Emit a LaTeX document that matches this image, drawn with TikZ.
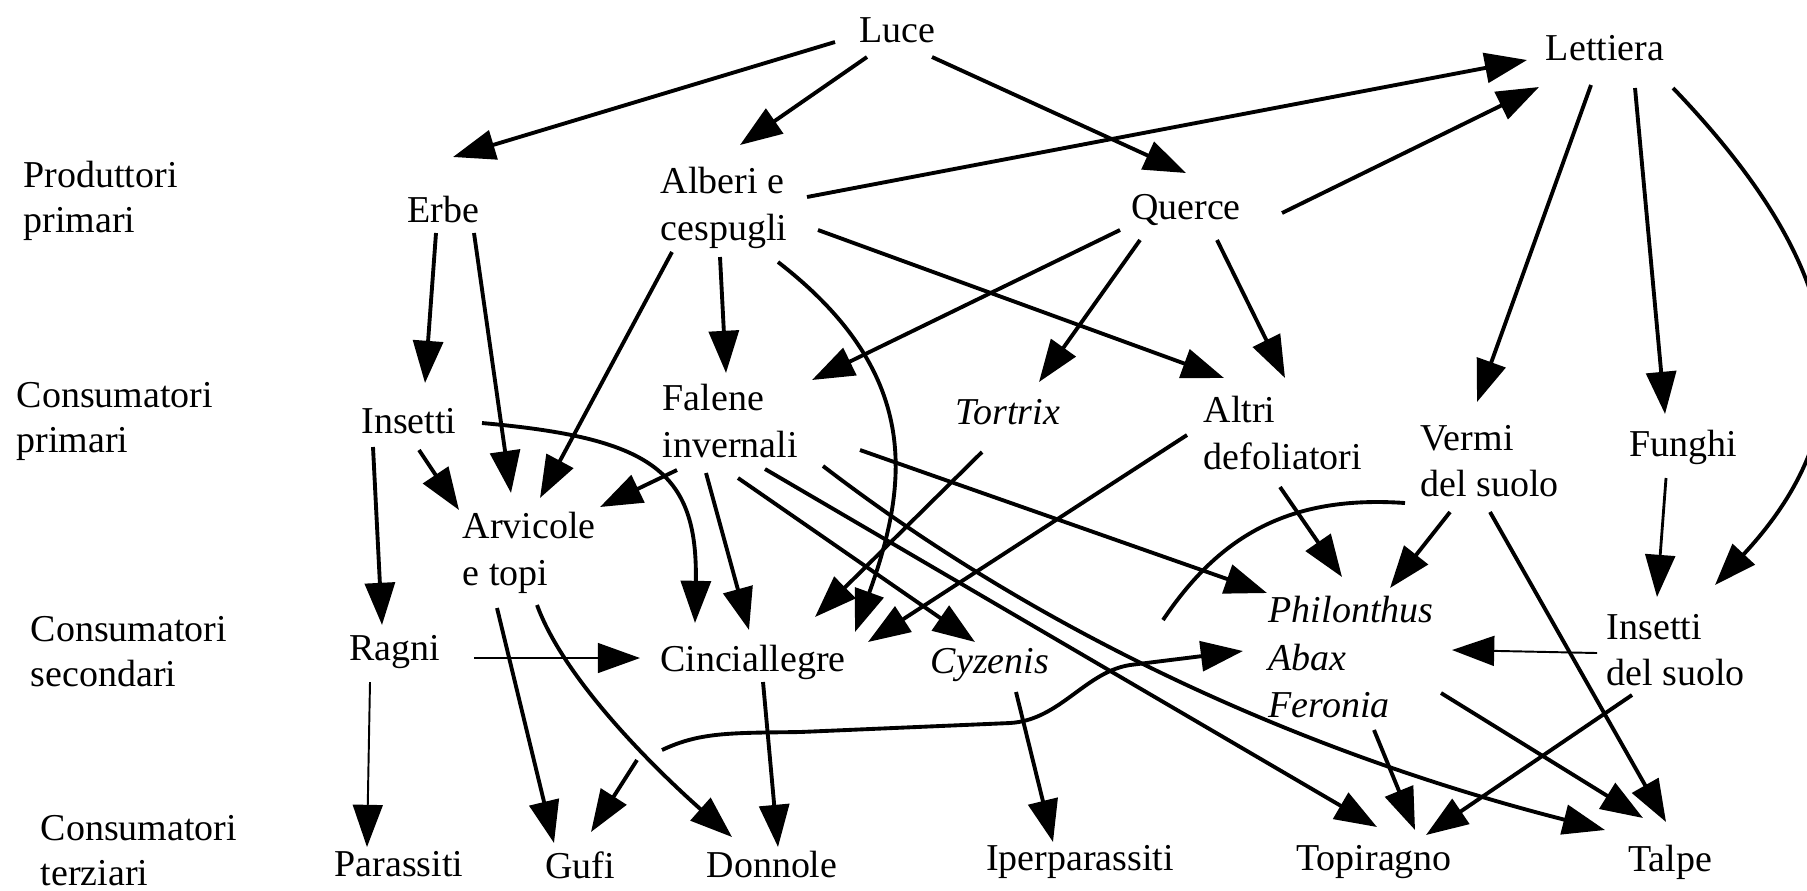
\documentclass[tikz,border=0pt]{standalone}
\usepackage{fontspec}
\setmainfont{Liberation Serif}
\usetikzlibrary{arrows.meta}
\begin{document}
\begin{tikzpicture}[x=0.01cm,y=-0.01cm,
  txt/.style={inner sep=0pt, font=\fontsize{10.8pt}{13.3pt}\selectfont},
  mtxt/.style={txt, align=left, anchor=west},
  lvl/.style={inner sep=0pt, font=\fontsize{10.8pt}{12.8pt}\selectfont, align=left, anchor=west},
  arr/.style={line width=1.1pt, -{Triangle[length=12pt,width=8.5pt]}},
  tarr/.style={line width=0.55pt, -{Triangle[length=12pt,width=8.5pt]}},
  marr/.style={line width=0.8pt, -{Triangle[length=12pt,width=8.5pt]}},
  ln/.style={line width=1.1pt}]
\useasboundingbox (0,0) rectangle (1807,890);

% level labels
\node[lvl] (lp) at (23,201) {Produttori\\primari};
\node[lvl] (lcp) at (16,421) {Consumatori\\primari};
\node[lvl] (lcs) at (30,652) {Consumatori\\secondari};
\node[lvl] (lct) at (40,851) {Consumatori\\terziari};

% nodes
\node[txt] (luce) at (897,30) {Luce};
\node[txt] (lett) at (1605,48) {Lettiera};
\node[txt] (erbe) at (443,209) {Erbe};
\node[mtxt] (alberi) at (660,208) {Alberi e\\cespugli};
\node[txt] (querce) at (1186,210) {Querce};
\node[txt] (ins) at (409,421) {Insetti};
\node[mtxt] (fal) at (662,421) {Falene\\invernali};
\node[txt] (tort) at (1008,412) {\itshape Tortrix};
\node[mtxt] (altri) at (1203,433) {Altri\\defoliatori};
\node[mtxt] (vermi) at (1420,461) {Vermi\\del suolo};
\node[txt] (funghi) at (1683,447) {Funghi};
\node[mtxt] (arv) at (462,553) {Arvicole\\e topi};
\node[txt] (ragni) at (395,652) {Ragni};
\node[txt] (cinc) at (753,662) {Cinciallegre};
\node[txt] (cyz) at (990,665) {\itshape Cyzenis};
\node[mtxt, font=\fontsize{10.8pt}{13.5pt}\selectfont\itshape] (phil) at (1268,657) {Philonthus\\Abax\\Feronia};
\node[mtxt] (insuolo) at (1606,650) {Insetti\\del suolo};
\node[txt] (parassiti) at (399,864) {Parassiti};
\node[txt] (gufi) at (580,865) {Gufi};
\node[txt] (donnole) at (772,864) {Donnole};
\node[txt] (iper) at (1080,862) {Iperparassiti};
\node[txt] (topir) at (1374,862) {Topiragno};
\node[txt] (talpe) at (1670,862) {Talpe};

% free ends
\coordinate (vend) at (1163,620);
\coordinate (wstart) at (662,750);
\coordinate (wmid1) at (800,732);
\coordinate (wmid2) at (1010,723);
\coordinate (wmid3) at (1130,665);
\coordinate (gstart) at (637,760);

% Luce
\draw[arr] ([shift={(-62,12)}]luce.center) -- ([shift={(10,-52)}]erbe.center);
\draw[arr] ([shift={(-30,27)}]luce.center) -- ([shift={(80,-63)}]alberi.west);
\draw[arr] ([shift={(35,27)}]luce.center) -- ([shift={(0,-37)}]querce.center);

% to Lettiera
\draw[arr] ([shift={(147,-11)}]alberi.west) -- ([shift={(-78,12)}]lett.center);
\draw[arr] ([shift={(96,3)}]querce.center) -- ([shift={(-66,39)}]lett.center);

% from Lettiera
\draw[arr] ([shift={(-14,37)}]lett.center) -- ([shift={(57,-59)}]vermi.west);
\draw[arr] ([shift={(30,40)}]lett.center) -- ([shift={(-18,-33)}]funghi.center);
\draw[arr] ([shift={(68,40)}]lett.center) .. controls (1839,261) and (1878,410) .. ([shift={(109,-65)}]insuolo.west);

% Erbe
\draw[arr] ([shift={(-7,24)}]erbe.center) -- ([shift={(16,-38)}]ins.center);
\draw[arr] ([shift={(31,24)}]erbe.center) -- ([shift={(49,-60)}]arv.west);

% Alberi
\draw[arr] ([shift={(12,44)}]alberi.west) -- ([shift={(78,-55)}]arv.west);
\draw[arr] ([shift={(60,49)}]alberi.west) -- ([shift={(64,-48)}]fal.west);
\draw[arr] ([shift={(118,54)}]alberi.west) .. controls (920,372) and (910,480) .. ([shift={(102,-30)}]cinc.center);
\draw[arr] ([shift={(158,22)}]alberi.west) -- ([shift={(21,-55)}]altri.west);

% Querce
\draw[arr] ([shift={(-66,20)}]querce.center) -- ([shift={(150,-41)}]fal.west);
\draw[arr] ([shift={(-46,30)}]querce.center) -- ([shift={(31,-30)}]tort.center);
\draw[arr] ([shift={(31,30)}]querce.center) -- ([shift={(82,-55)}]altri.west);

% Insetti
\draw[arr] ([shift={(10,29)}]ins.center) -- ([shift={(-3,-43)}]arv.west);
\draw[arr] ([shift={(-36,26)}]ins.center) -- ([shift={(-13,-27)}]ragni.center);
\draw[arr] ([shift={(73,2)}]ins.center) .. controls (650,438) and (698,470) .. ([shift={(-58,-39)}]cinc.center);

% Falene invernali
\draw[arr] ([shift={(15,49)}]fal.west) -- ([shift={(138,-46)}]arv.west);
\draw[arr] ([shift={(44,52)}]fal.west) -- ([shift={(-4,-32)}]cinc.center);
\draw[arr] ([shift={(76,57)}]fal.west) -- ([shift={(-15,-23)}]cyz.center);
\draw[arr] ([shift={(198,29)}]fal.west) -- ([shift={(-1,-64)}]phil.west);
\draw[arr] ([shift={(103,48)}]fal.west) -- ([shift={(3,-35)}]topir.center);
\draw[arr] ([shift={(161,45)}]fal.west) .. controls (1060,648) and (1330,760) .. ([shift={(-65,-32)}]talpe.center);

% Tortrix, Altri
\draw[arr] ([shift={(-26,40)}]tort.center) -- ([shift={(62,-45)}]cinc.center);
\draw[arr] ([shift={(-16,2)}]altri.west) -- ([shift={(115,-20)}]cinc.center);
\draw[arr] ([shift={(77,54)}]altri.west) -- ([shift={(74,-80)}]phil.west);

% Vermi del suolo
\draw[arr] ([shift={(30,51)}]vermi.west) -- ([shift={(122,-69)}]phil.west);
\draw[arr] ([shift={(70,51)}]vermi.west) -- ([shift={(-4,-40)}]talpe.center);
\draw[ln] ([shift={(-15,42)}]vermi.west) .. controls (1290,495) and (1220,535) .. (vend);

% Funghi, Insetti del suolo
\draw[marr] ([shift={(-17,31)}]funghi.center) -- ([shift={(51,-53)}]insuolo.west);
\draw[tarr] ([shift={(-9,3)}]insuolo.west) -- ([shift={(184,-7)}]phil.west);
\draw[arr] ([shift={(26,45)}]insuolo.west) -- ([shift={(52,-27)}]topir.center);

% Philonthus group
\draw[arr] ([shift={(173,36)}]phil.west) -- ([shift={(-27,-44)}]talpe.center);
\draw[arr] ([shift={(106,73)}]phil.west) -- ([shift={(41,-32)}]topir.center);

% Ragni
\draw[tarr] ([shift={(79,6)}]ragni.center) -- ([shift={(-113,-4)}]cinc.center);
\draw[tarr] ([shift={(-25,30)}]ragni.center) -- ([shift={(-32,-17)}]parassiti.center);

% Arvicole
\draw[arr] ([shift={(35,55)}]arv.west) -- ([shift={(-26,-22)}]gufi.center);
\draw[arr] ([shift={(75,52)}]arv.west) .. controls (568,690) and (680,791) .. ([shift={(-40,-27)}]donnole.center);

% Cinciallegre, Cyzenis
\draw[arr] ([shift={(10,20)}]cinc.center) -- ([shift={(6,-17)}]donnole.center);
\draw[arr] ([shift={(26,27)}]cyz.center) -- ([shift={(-27,-20)}]iper.center);

% wavy curve to Abax and arrow to Gufi
\draw[arr] (wstart) .. controls (700,732) and (730,733) .. (wmid1) -- (wmid2)
  .. controls (1060,720) and (1085,672) .. (wmid3) -- ([shift={(-25,-6)}]phil.west);
\draw[arr] (gstart) -- ([shift={(11,-33)}]gufi.center);
\end{tikzpicture}
\end{document}
